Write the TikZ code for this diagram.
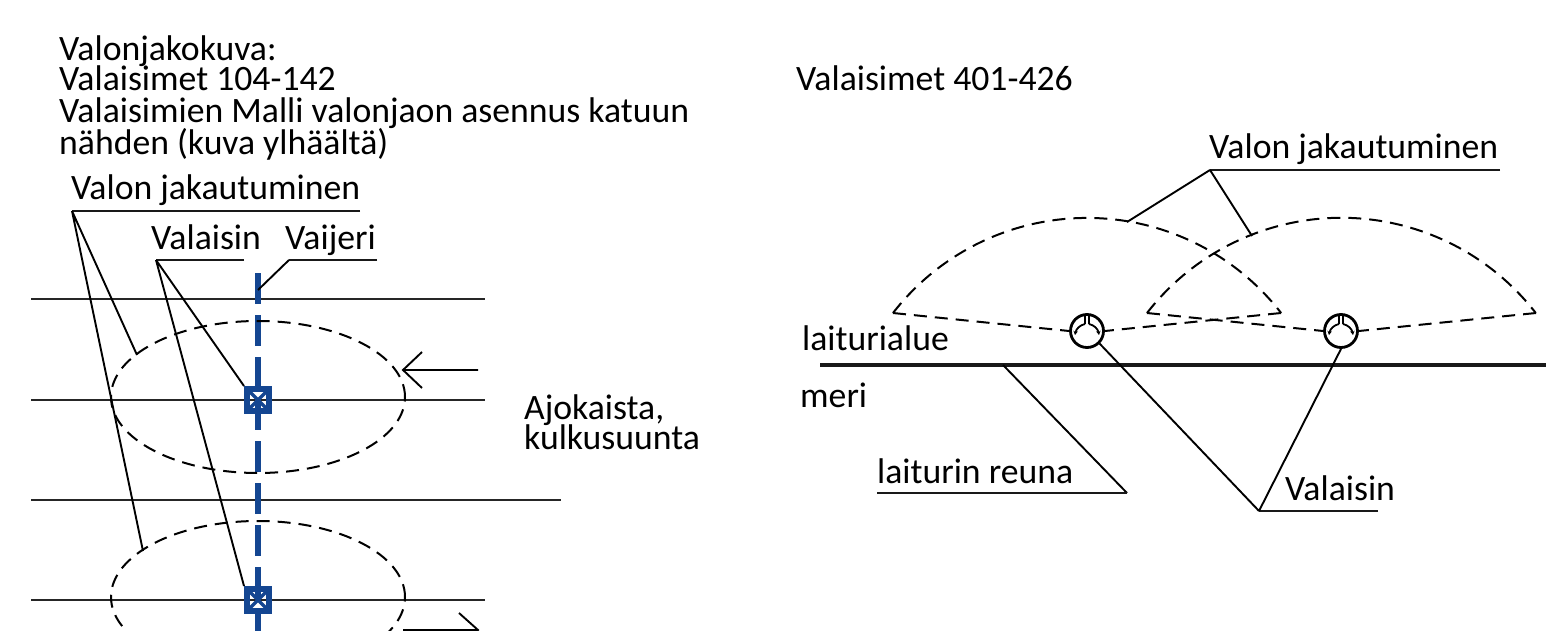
\documentclass[tikz,border=0pt]{standalone}
\usepackage{fontspec}
\setmainfont{Carlito}
\usetikzlibrary{arrows.meta}
\tikzset{
  lbl/.style={inner sep=0pt,anchor=base west,font=\fontsize{35.7}{32}\selectfont,align=left},
  thin line/.style={line width=2.2pt,draw=black!85},
  lead/.style={line width=1.9pt,draw=black},
  uline/.style={line width=2.1pt,draw=black!90},
  fan/.style={line width=2pt,draw=black,dash pattern=on 13pt off 8pt},
  wire/.style={line width=6.4pt,draw=myblue,dash pattern=on 31pt off 11pt},
  lamp/.style={draw=myblue,line width=6pt,minimum size=22pt,inner sep=0pt,path picture={
     \draw[myblue,line width=3.4pt] (path picture bounding box.north west)--(path picture bounding box.south east)
       (path picture bounding box.north east)--(path picture bounding box.south west);}},
  ring/.style={circle,draw=black,line width=2.8pt,minimum size=33pt,inner sep=0pt},
  head/.style={line width=1.8pt,-{Stealth[length=4pt,width=4.5pt]}}
}
\definecolor{myblue}{RGB}{20,70,145}
\begin{document}
\begin{tikzpicture}[x=1pt,y=-1pt]
\useasboundingbox (0,0) rectangle (1558,631);
\begin{scope}
\clip (0,0) rectangle (1558,631);
% left roads
\coordinate (r1a) at (31,299); \coordinate (r1b) at (485,299);
\coordinate (r2a) at (31,400); \coordinate (r2b) at (485,400);
\coordinate (r3a) at (31,500); \coordinate (r3b) at (561,500);
\coordinate (r4a) at (31,600); \coordinate (r4b) at (485,600);
\draw[thin line] (r1a)--(r1b);
\draw[thin line] (r2a)--(r2b);
\draw[thin line] (r3a)--(r3b);
\draw[thin line] (r4a)--(r4b);
% wire
\coordinate (wt) at (258,273); \coordinate (wb) at (258,640);
\draw[wire] (wt)--(wb);
% ellipses
\draw[fan] (258,397) ellipse [x radius=147pt,y radius=76pt];
\draw[fan] (258,597) ellipse [x radius=147pt,y radius=76pt];
% lamps
\node[lamp] (l1) at (258,400) {};
\node[lamp] (l2) at (258,600) {};
% arrows
\coordinate (a1) at (403,370); \coordinate (a1e) at (478,370);
\draw[lead] (a1e)--(a1) (422,352)--(a1)--(422,388);
\coordinate (a2) at (478,630); \coordinate (a2e) at (403,630);
\draw[lead] (a2e)--(a2) (459,613)--(a2)--(459,647);
% left labels
\node[lbl] (t1) at (59,61) {Valonjakokuva:};
\node[lbl] (t2) at (59,91) {Valaisimet 104-142};
\node[lbl] (t3) at (59,123) {Valaisimien Malli valonjaon asennus katuun};
\node[lbl] (t4) at (59,155) {nähden (kuva ylhäältä)};
\node[lbl] (vj) at (71,200) {Valon jakautuminen};
\node[lbl] (vs) at (151,249) {Valaisin};
\node[lbl] (vr) at (285,249) {Vaijeri};
\node[lbl] (ak) at (524,419) {Ajokaista,};
\node[lbl] (ku) at (524,449) {kulkusuunta};
% left leaders
\coordinate (vj0) at (72,211); \coordinate (vj1) at (360,211);
\coordinate (e1) at (137,355); \coordinate (e2) at (143,551);
\draw[uline] (vj1)--(vj0);
\draw[lead] (vj0)--(e1) (vj0)--(e2);
\coordinate (vs0) at (156,260); \coordinate (vs1) at (244,260);
\draw[uline] (vs1)--(vs0);
\draw[lead] (vs0)--(l1.north west) (vs0)--(l2.north west);
\coordinate (vr1) at (377,260); \coordinate (vr0) at (289,260); \coordinate (vr2) at (258,290);
\draw[uline] (vr1)--(vr0);
\draw[lead] (vr0)--(vr2);
% right
\node[lbl] (rt) at (796,91) {Valaisimet 401-426};
\node[lbl] (rv) at (1209,159) {Valon jakautuminen};
\node[lbl] (la) at (802,350) {laiturialue};
\node[lbl] (me) at (800,407) {meri};
\node[lbl] (re) at (877,483) {laiturin reuna};
\node[lbl] (va) at (1285,500) {Valaisin};
\node[ring] (c1) at (1087,331) {};
\node[ring] (c2) at (1341,331) {};
\coordinate (p1) at (893,313); \coordinate (p1e) at (1281,313);
\coordinate (p2) at (1147,313); \coordinate (p2e) at (1536,313);
\draw[fan] (p1) arc[start angle=142.2,end angle=37.8,radius=245.6pt];
\draw[fan] (p2) arc[start angle=142.2,end angle=37.8,radius=246pt];
\draw[fan] (p1)--(c1.west);
\draw[fan] (p1e)--(c1.east);
\draw[fan] (p2)--(c2.west);
\draw[fan] (p2e)--(c2.east);
% lamp icons
\foreach \c in {c1,c2}{
  \draw[head] ([shift={(-2,-7)}]\c.center) .. controls ([shift={(-7,-6)}]\c.center) and ([shift={(-11,-2)}]\c.center) .. ([shift={(-12,4)}]\c.center);
  \draw[head] ([shift={(2,-7)}]\c.center) .. controls ([shift={(7,-6)}]\c.center) and ([shift={(11,-2)}]\c.center) .. ([shift={(12,4)}]\c.center);
  \draw[line width=1.6pt] ([shift={(-2,-7)}]\c.center)--([shift={(-2,-15)}]\c.center);
  \draw[line width=1.6pt] ([shift={(2,-7)}]\c.center)--([shift={(2,-15)}]\c.center);
}
\coordinate (w0) at (820,365); \coordinate (w1) at (1546,365);
\draw[line width=4.2pt,draw=black!90] (w0)--(w1);
\coordinate (v0) at (1210,170); \coordinate (v1) at (1500,170);
\coordinate (f1) at (1127,222); \coordinate (f2) at (1252,236);
\draw[uline] (v1)--(v0);
\draw[lead] (v0)--(f1) (v0)--(f2);
\coordinate (e0) at (1003,365); \coordinate (e3) at (1127,493); \coordinate (e4) at (877,493);
\draw[lead] (e0)--(e3);
\draw[uline] (e3)--(e4);
\coordinate (b0) at (1259,511); \coordinate (b1) at (1378,511);
\draw[uline] (b1)--(b0);
\draw[lead] (b0)--(c1.south east) (b0)--(c2.south);
\end{scope}
\end{tikzpicture}
\end{document}
